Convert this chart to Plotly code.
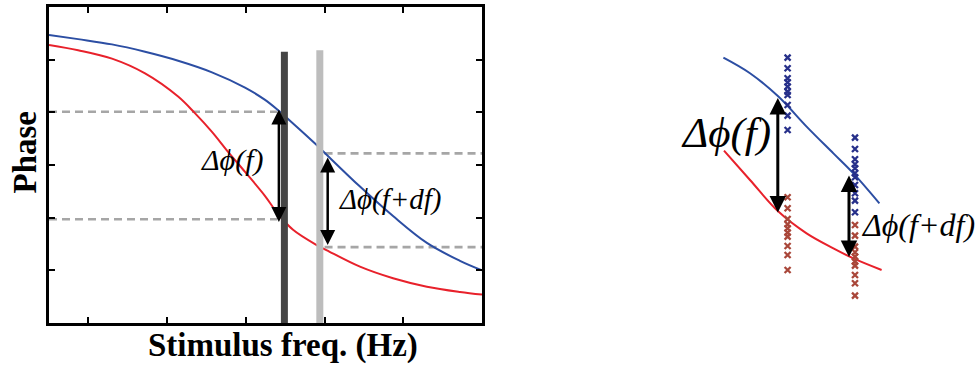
import plotly.graph_objects as go

# ---------------- Left panel data (x: stimulus freq, y: phase, arbitrary units)
blue_x = [0.0, 0.37, 0.80, 1.22, 1.64, 2.07, 2.49, 2.74, 2.91, 3.10, 3.40, 3.53, 3.95, 4.37, 4.80, 5.22, 5.50]
blue_y = [5.47, 5.39, 5.29, 5.15, 4.98, 4.76, 4.47, 4.24, 4.04, 3.79, 3.38, 3.19, 2.59, 2.03, 1.52, 1.18, 1.00]
red_x = [0.0, 0.37, 0.80, 1.22, 1.64, 1.85, 2.07, 2.28, 2.49, 2.74, 2.91, 3.10, 3.40, 3.53, 3.95, 4.37, 4.80, 5.22, 5.50]
red_y = [5.28, 5.18, 5.02, 4.74, 4.30, 3.99, 3.63, 3.24, 2.87, 2.42, 2.07, 1.77, 1.48, 1.38, 1.07, 0.85, 0.69, 0.59, 0.54]

bar_f = [2.99, 3.44]          # frequency of the two bars (f, f+df)
bar_top = [5.15, 5.18]
bar_colors = ["#454545", "#bdbdbd"]

dash_y = [4.01, 1.97, 3.22, 1.44]
dash_x0 = [0.0, 0.0, 3.50, 3.50]
dash_x1 = [2.90, 2.90, 5.50, 5.50]

arrow_x = [2.92, 3.54]
arrow_top = [4.08, 3.17]
arrow_bot = [1.92, 1.48]

x_ticks = [0.5, 1.5, 2.5, 3.5, 4.5]
y_ticks = [1, 2, 3, 4, 5]

# ---------------- Right panel data
r_blue_x = [2.17, 3.50, 4.92, 6.33, 7.67, 8.67, 9.97]
r_blue_y = [15.52, 14.74, 13.57, 12.07, 10.73, 9.73, 8.23]
r_red_x = [2.20, 3.50, 4.92, 6.33, 7.67, 8.67, 10.08]
r_red_y = [10.87, 9.40, 7.82, 6.73, 5.98, 5.48, 4.90]

col1_x = 5.38
col2_x = 8.75
col1_blue = [15.52, 14.99, 14.49, 14.29, 14.07, 13.82, 13.65, 13.15, 12.62, 11.90]
col1_red = [8.54, 7.99, 7.45, 7.19, 6.99, 6.77, 6.57, 6.10, 5.65, 4.90]
col2_blue = [11.52, 10.95, 10.44, 10.19, 9.99, 9.74, 9.54, 9.15, 8.74, 8.37, 7.79]
col2_red = [7.15, 6.62, 6.07, 5.79, 5.57, 5.32, 5.12, 4.65, 4.24, 3.62]

r_arrow_x = [4.89, 8.45]
r_arrow_top = [13.57, 9.70]
r_arrow_bot = [7.77, 5.55]

BLUE = "#2c4ea3"
RED = "#e8212b"
XBLUE = "#27308a"
XRED = "#a9473a"
FONT = "Liberation Serif"

fig = go.Figure()

# dashed guide lines
for y, x0, x1 in zip(dash_y, dash_x0, dash_x1):
    fig.add_trace(go.Scatter(x=[x0, x1], y=[y, y], mode="lines",
                             line=dict(color="#a6a6a6", width=2.6, dash="8px,5px"),
                             xaxis="x", yaxis="y", hoverinfo="skip"))

fig.add_trace(go.Scatter(x=blue_x, y=blue_y, mode="lines", line=dict(color=BLUE, width=2, shape="spline", smoothing=1.0),
                         xaxis="x", yaxis="y"))
fig.add_trace(go.Scatter(x=red_x, y=red_y, mode="lines", line=dict(color=RED, width=2, shape="spline", smoothing=1.0),
                         xaxis="x", yaxis="y"))

for f, top, c in zip(bar_f, bar_top, bar_colors):
    fig.add_trace(go.Scatter(x=[f, f], y=[0, top], mode="lines", line=dict(color=c, width=7),
                             xaxis="x", yaxis="y", hoverinfo="skip"))

# right panel
fig.add_trace(go.Scatter(x=r_blue_x, y=r_blue_y, mode="lines", line=dict(color=BLUE, width=2, shape="spline"),
                         xaxis="x2", yaxis="y2"))
fig.add_trace(go.Scatter(x=r_red_x, y=r_red_y, mode="lines", line=dict(color=RED, width=2, shape="spline"),
                         xaxis="x2", yaxis="y2"))
for xc, ys, c in [(col1_x, col1_blue, XBLUE), (col1_x, col1_red, XRED),
                  (col2_x, col2_blue, XBLUE), (col2_x, col2_red, XRED)]:
    fig.add_trace(go.Scatter(x=[xc] * len(ys), y=ys, mode="markers",
                             marker=dict(symbol="x-thin", size=6, color=c, line=dict(width=2.3, color=c)),
                             xaxis="x2", yaxis="y2"))

annotations = []
for ax_, t, b in zip(arrow_x, arrow_top, arrow_bot):
    annotations.append(dict(x=ax_, y=b, ax=ax_, ay=t, xref="x", yref="y", axref="x", ayref="y",
                            text="", showarrow=True, arrowhead=2, startarrowhead=2, arrowside="end+start",
                            arrowwidth=2.5, arrowsize=1.2, startarrowsize=1.2, arrowcolor="black", standoff=0, startstandoff=0))
for ax_, t, b in zip(r_arrow_x, r_arrow_top, r_arrow_bot):
    annotations.append(dict(x=ax_, y=b, ax=ax_, ay=t, xref="x2", yref="y2", axref="x2", ayref="y2",
                            text="", showarrow=True, arrowhead=2, startarrowhead=2, arrowside="end+start",
                            arrowwidth=3, arrowsize=1.1, startarrowsize=1.1, arrowcolor="black", standoff=0, startstandoff=0))

annotations += [
    dict(x=2.32, y=3.09, xref="x", yref="y", text="<i>Δϕ(f)</i>", showarrow=False,
         font=dict(family=FONT, size=30, color="black")),
    dict(x=4.34, y=2.35, xref="x", yref="y", text="<i>Δϕ(f+df)</i>", showarrow=False,
         font=dict(family=FONT, size=29, color="black")),
    dict(x=2.30, y=11.75, xref="x2", yref="y2", text="<i>Δϕ(f)</i>", showarrow=False,
         font=dict(family=FONT, size=43, color="black")),
    dict(x=11.9, y=7.15, xref="x2", yref="y2", text="<i>Δϕ(f+df)</i>", showarrow=False,
         font=dict(family=FONT, size=32, color="black")),
    dict(x=282.5 / 976, y=1 - 345 / 368, xref="paper", yref="paper", xanchor="center", yanchor="middle",
         text="<b>Stimulus freq. (Hz)</b>", showarrow=False, font=dict(family=FONT, size=33, color="black")),
    dict(x=24 / 976, y=1 - 152.5 / 368, xref="paper", yref="paper", xanchor="center", yanchor="middle",
         text="<b>Phase</b>", textangle=-90, showarrow=False, font=dict(family=FONT, size=33, color="black")),
]

axis_common = dict(showgrid=False, zeroline=False, showticklabels=False, ticks="inside", ticklen=6,
                   tickwidth=1.5, tickcolor="black", showline=True, linecolor="black", linewidth=2.5,
                   mirror="allticks")

fig.update_layout(
    width=976, height=368,
    margin=dict(l=0, r=0, t=0, b=0),
    paper_bgcolor="white", plot_bgcolor="rgba(0,0,0,0)",
    showlegend=False,
    xaxis=dict(domain=[49 / 976, 482 / 976], range=[0, 5.5], tickvals=x_ticks, anchor="y", **axis_common),
    yaxis=dict(domain=[45 / 368, 361 / 368], range=[0, 6], tickvals=y_ticks, anchor="x", **axis_common),
    xaxis2=dict(domain=[680 / 976, 1.0], range=[0, 14.8], visible=False, anchor="y2"),
    yaxis2=dict(domain=[0, 1], range=[0, 18.4], visible=False, anchor="x2"),
    annotations=annotations,
)

fig.write_html("out.html")
